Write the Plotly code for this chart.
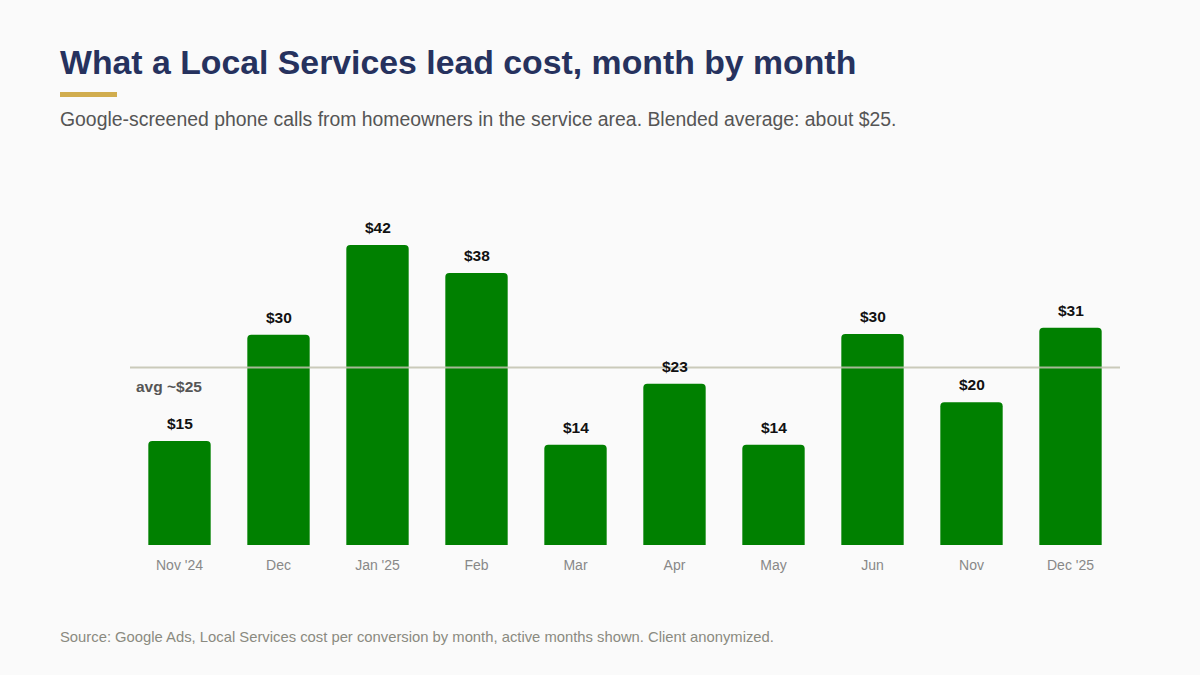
import plotly.graph_objects as go

months = ["Nov '24", "Dec", "Jan '25", "Feb", "Mar", "Apr", "May", "Jun", "Nov", "Dec '25"]
cost = [14.65, 29.6, 42.25, 38.3, 14.1, 22.7, 14.1, 29.7, 20.1, 30.6]
labels = ["$15", "$30", "$42", "$38", "$14", "$23", "$14", "$30", "$20", "$31"]
avg_value = 25
avg_label = "avg ~$25"

TITLE = "What a Local Services lead cost, month by month"
SUBTITLE = "Google-screened phone calls from homeowners in the service area. Blended average: about $25."
SOURCE = "Source: Google Ads, Local Services cost per conversion by month, active months shown. Client anonymized."

FONT = "Liberation Sans, Arial, sans-serif"
BG = "#fafafa"

W, H = 1200, 675
l, r, t, b = 130, 80, 175, 130
pw, ph = W - l - r, H - t - b

def px(xp):
    return (xp - l) / pw

def py(yp):
    return (H - b - yp) / ph

fig = go.Figure()
fig.add_trace(go.Bar(
    x=months, y=cost,
    marker=dict(color="#008000", line=dict(width=0), cornerradius=4),
    hoverinfo="skip",
))

for m, v, txt in zip(months, cost, labels):
    fig.add_annotation(x=m, y=v, text="<b>" + txt + "</b>", showarrow=False, yanchor="bottom",
                       yshift=7, font=dict(family=FONT, size=15.5, color="#111111"))

fig.add_shape(type="line", xref="paper", yref="y", x0=0, x1=1, y0=avg_value, y1=avg_value,
              line=dict(color="#c2c2b0", width=2), opacity=0.85, layer="above")
fig.add_annotation(xref="paper", yref="y", x=px(134), y=avg_value, text="<b>" + avg_label + "</b>",
                   showarrow=False, xanchor="left", yanchor="top", yshift=-9,
                   font=dict(family=FONT, size=15.5, color="#555555"))

fig.update_layout(
    width=W, height=H,
    paper_bgcolor=BG, plot_bgcolor=BG,
    margin=dict(l=l, r=r, t=t, b=b),
    showlegend=False,
    bargap=0.37,
    font=dict(family=FONT),
    xaxis=dict(showgrid=False, showline=False, zeroline=False, ticks="",
               tickfont=dict(family=FONT, size=14, color="#888888"), ticklabelstandoff=10),
    yaxis=dict(range=[0, 52.1], visible=False, showgrid=False, zeroline=False),
)

fig.add_annotation(xref="paper", yref="paper", x=px(58), y=py(62), text="<b>" + TITLE + "</b>",
                   showarrow=False, xanchor="left", yanchor="middle",
                   font=dict(family=FONT, size=33.8, color="#26325e"))
fig.add_annotation(xref="paper", yref="paper", x=px(58), y=py(119), text=SUBTITLE,
                   showarrow=False, xanchor="left", yanchor="middle",
                   font=dict(family=FONT, size=19.4, color="#555555"))
fig.add_annotation(xref="paper", yref="paper", x=px(58), y=py(637), text=SOURCE,
                   showarrow=False, xanchor="left", yanchor="middle",
                   font=dict(family=FONT, size=14.8, color="#8a8a80"))
fig.add_shape(type="rect", xref="paper", yref="paper", x0=px(60), x1=px(117), y0=py(97), y1=py(92),
              fillcolor="#d1ad4e", line=dict(width=0))

fig.write_html("out.html")
